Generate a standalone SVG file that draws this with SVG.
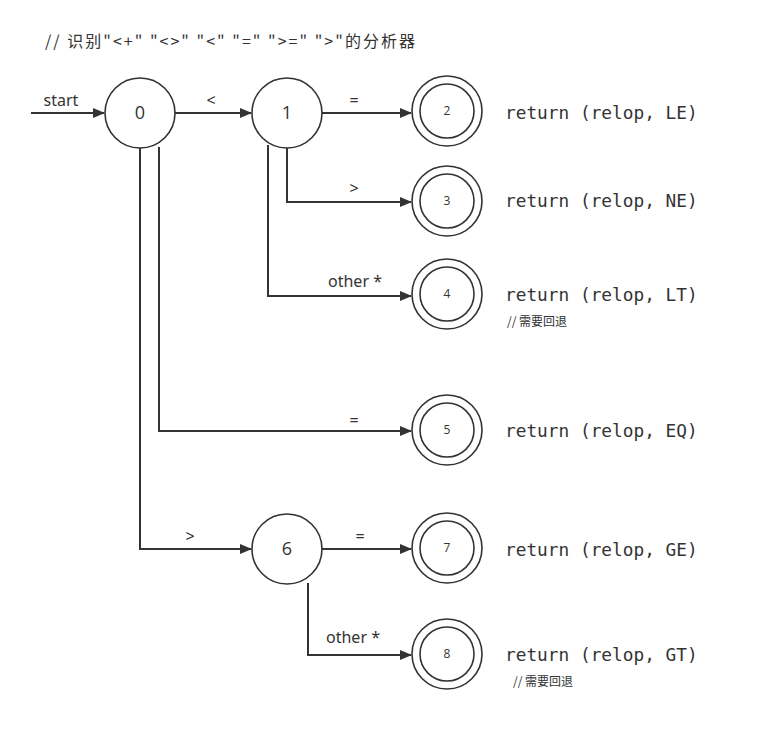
<svg xmlns="http://www.w3.org/2000/svg" width="760" height="740" viewBox="0 0 760 740">
<style>
.c{fill:#fff;stroke:#333;stroke-width:1.6}
.e{fill:none;stroke:#333;stroke-width:2}
.big{font-family:"Segoe UI","Open Sans","Noto Sans",sans-serif;font-size:18px;fill:#333;text-anchor:middle}
.sm{font-family:"Segoe UI","Open Sans","Noto Sans",sans-serif;font-size:12px;fill:#333;text-anchor:middle}
.lb{font-family:"Noto Sans","Noto Sans CJK SC",sans-serif;font-size:16px;fill:#333;text-anchor:middle}
.ret{font-family:"DejaVu Sans Mono","Liberation Mono",monospace;font-size:17.8px;fill:#333}
.cm{font-family:"Noto Sans CJK SC",sans-serif;font-size:12px;fill:#333}
</style>
<defs>
<marker id="a" markerWidth="12" markerHeight="10" refX="11" refY="5" orient="auto" markerUnits="userSpaceOnUse">
<path d="M0,0 L12,5 L0,10 Z" fill="#333"/>
</marker>
</defs>
<rect width="760" height="740" fill="#fff"/>
<text x="45" y="47" font-family="Noto Sans CJK SC,sans-serif" font-size="16" fill="#333" textLength="370" lengthAdjust="spacing">// 识别"&lt;+" "&lt;&gt;" "&lt;" "=" "&gt;=" "&gt;"的分析器</text>
<g id="connectors">
<path class="e" d="M31,113 H104" marker-end="url(#a)"/>
<path class="e" d="M175,113 H251" marker-end="url(#a)"/>
<path class="e" d="M322,113 H411" marker-end="url(#a)"/>
<path class="e" d="M287,148 V202 H411" marker-end="url(#a)"/>
<path class="e" d="M268,145 V296 H411" marker-end="url(#a)"/>
<path class="e" d="M159,147 V431 H411" marker-end="url(#a)"/>
<path class="e" d="M140,148 V549 H251" marker-end="url(#a)"/>
<path class="e" d="M322,549 H411" marker-end="url(#a)"/>
<path class="e" d="M308,583 V655 H411" marker-end="url(#a)"/>
<text class="lb" x="61" y="106">start</text>
<text class="lb" x="211" y="106">&lt;</text>
<text class="lb" x="354" y="106">=</text>
<text class="lb" x="354" y="194">&gt;</text>
<text class="lb" x="355" y="287">other *</text>
<text class="lb" x="354" y="426">=</text>
<text class="lb" x="190" y="542">&gt;</text>
<text class="lb" x="360" y="542">=</text>
<text class="lb" x="353" y="643">other *</text>
</g>
<g id="n0"><circle class="c" cx="140" cy="113" r="35"/><text class="big" x="140" y="119">0</text></g>
<g id="n1"><circle class="c" cx="287" cy="113" r="35"/><text class="big" x="287" y="119">1</text></g>
<g id="n6"><circle class="c" cx="287" cy="549" r="35"/><text class="big" x="287" y="555">6</text></g>
<g id="n2"><circle class="c" cx="447" cy="111" r="35"/><circle class="c" cx="447" cy="111" r="27"/><text class="sm" x="447" y="115">2</text></g>
<g id="n3"><circle class="c" cx="447" cy="201" r="35"/><circle class="c" cx="447" cy="201" r="27"/><text class="sm" x="447" y="205">3</text></g>
<g id="n4"><circle class="c" cx="447" cy="294" r="35"/><circle class="c" cx="447" cy="294" r="27"/><text class="sm" x="447" y="298">4</text></g>
<g id="n5"><circle class="c" cx="447" cy="430" r="35"/><circle class="c" cx="447" cy="430" r="27"/><text class="sm" x="447" y="434">5</text></g>
<g id="n7"><circle class="c" cx="447" cy="548" r="35"/><circle class="c" cx="447" cy="548" r="27"/><text class="sm" x="447" y="552">7</text></g>
<g id="n8"><circle class="c" cx="447" cy="654" r="35"/><circle class="c" cx="447" cy="654" r="27"/><text class="sm" x="447" y="658">8</text></g>
<g id="returns">
<text class="ret" x="505" y="119">return (relop, LE)</text>
<text class="ret" x="505" y="207">return (relop, NE)</text>
<text class="ret" x="505" y="301">return (relop, LT)</text>
<text class="cm" x="507" y="326">// 需要回退</text>
<text class="ret" x="505" y="437">return (relop, EQ)</text>
<text class="ret" x="505" y="556">return (relop, GE)</text>
<text class="ret" x="505" y="661">return (relop, GT)</text>
<text class="cm" x="513" y="686">// 需要回退</text>
</g>
</svg>
